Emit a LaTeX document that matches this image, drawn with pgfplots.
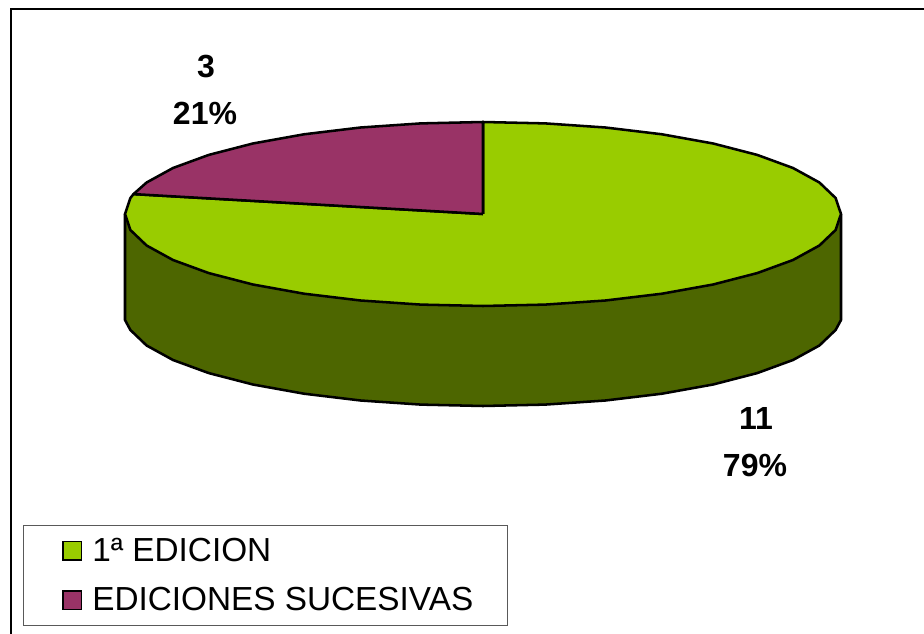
\documentclass[border=0pt]{standalone}
\usepackage{fontspec}
\setmainfont{Liberation Sans}
\usepackage{pgfplots}
\pgfplotsset{compat=1.18}
\definecolor{edgreen}{HTML}{99CC00}
\definecolor{edpurple}{HTML}{993366}
\definecolor{eddark}{HTML}{4D6600}
\begin{document}
\begin{tikzpicture}
\useasboundingbox (0,0) rectangle (693pt,475.5pt);
\begin{axis}[
  at={(0,0)}, anchor=south west,
  scale only axis, width=693pt, height=475.5pt,
  xmin=0, xmax=924, ymin=0, ymax=634, y dir=reverse,
  hide axis, clip=true,
  legend style={at={(axis cs:23,525)}, anchor=north west, draw=black!65, line width=0.9pt,
    font=\fontsize{25}{30}\selectfont, inner xsep=29.5pt, inner ysep=7.5pt,
    row sep=14pt, nodes={inner sep=2pt}},
  legend cell align=left,
]
% frame
\addplot[black, line width=1.2pt, forget plot] coordinates {(11,640) (11,9) (930,9)};
% side
\addplot[fill=eddark, draw=black, line width=1.9pt, line join=round, forget plot] coordinates {
(841,214) (841,320) (835.6,330) (819.4,345.5) (793,360) (757.2,373.1) (713.1,384.5) (662,393.7) (605.4,400.5) (545.2,404.6) (483,406) (420.8,404.6) (360.6,400.5) (304,393.7) (252.9,384.5) (208.8,373.1) (173,360) (146.6,345.5) (130.4,330) (125,320) (125,214) (841,214)};
% green slice, 11
\addplot[fill=edgreen, draw=black, line width=1.9pt, line join=round, forget plot] coordinates {
(483,214) (483,122) (545.2,123.4) (605.4,127.5) (662,134.3) (713.1,143.5) (757.2,154.9) (793,168) (819.4,182.5) (835.6,198) (841,214) (835.6,230) (819.4,245.5) (793,260) (757.2,273.1) (713.1,284.5) (662,293.7) (605.4,300.5) (545.2,304.6) (483,306) (420.8,304.6) (360.6,300.5) (304,293.7) (252.9,284.5) (208.8,273.1) (173,260) (146.6,245.5) (130.4,230) (125,214) (130.4,198) (133.5,194.1) (483,214)};
\addlegendimage{only marks, mark=square*, mark size=7pt, mark options={fill=edgreen, draw=black, line width=1.3pt}}
\addlegendentry{\hspace*{6pt}1ª EDICION}
% purple slice, 3
\addplot[fill=edpurple, draw=black, line width=1.9pt, line join=round, forget plot] coordinates {
(483,214) (133.5,194.1) (146.6,182.5) (173,168) (208.8,154.9) (252.9,143.5) (304,134.3) (360.6,127.5) (420.8,123.4) (483,122) (483,214)};
\addlegendimage{only marks, mark=square*, mark size=7pt, mark options={fill=edpurple, draw=black, line width=1.3pt}}
\addlegendentry{\hspace*{6pt}EDICIONES SUCESIVAS\hspace*{-5.5pt}}
\node[font=\bfseries\fontsize{24}{24}\selectfont] at (axis cs:206,67) {3};
\node[font=\bfseries\fontsize{24}{24}\selectfont] at (axis cs:205,113) {21\%};
\node[font=\bfseries\fontsize{24}{24}\selectfont] at (axis cs:756,418) {11};
\node[font=\bfseries\fontsize{24}{24}\selectfont] at (axis cs:755,465) {79\%};
\end{axis}
\end{tikzpicture}
\end{document}
